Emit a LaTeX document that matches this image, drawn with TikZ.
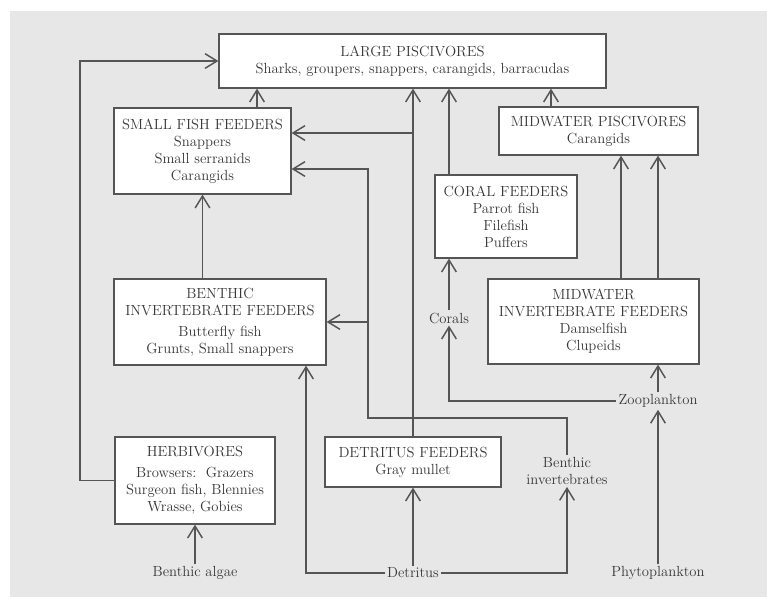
\documentclass[tikz,border=0pt]{standalone}
\usetikzlibrary{arrows.meta,calc}
\definecolor{bg}{RGB}{231,231,231}
\definecolor{ln}{RGB}{85,85,85}
\definecolor{tx}{RGB}{55,55,55}
\newcommand{\dgfnt}{\fontsize{11}{12.75}\selectfont}
\begin{document}
\begin{tikzpicture}[x=0.75pt,y=-0.75pt,
  bx/.style={draw=ln, line width=0.9pt, fill=white, align=center, inner sep=0pt, text=tx, font=\dgfnt},
  lbl/.style={text=tx, font=\dgfnt, align=center, inner sep=1.5pt},
  arr/.style={draw=ln, line width=1.4pt, -{Straight Barb[length=9pt,width=11pt,line width=1.1pt]}}]
\useasboundingbox (0,0) rectangle (767,597);
\fill[white] (0,0) rectangle (767,597);
\fill[bg] (10,11) rectangle (767,597);

\node[bx, minimum width=290.25pt, minimum height=40.5pt] (lp) at (412.5,61) {LARGE PISCIVORES\\Sharks, groupers, snappers, carangids, barracudas};
\node[bx, minimum width=132.75pt, minimum height=64.5pt] (sff) at (202.5,151) {SMALL FISH FEEDERS\\Snappers\\Small serranids\\Carangids};
\node[bx, minimum width=149.25pt, minimum height=36pt] (mp) at (598.5,131) {MIDWATER PISCIVORES\\Carangids};
\node[bx, minimum width=106.5pt, minimum height=62.25pt] (cf) at (506,216.5) {CORAL FEEDERS\\Parrot fish\\Filefish\\Puffers};
\node[bx, minimum width=159pt, minimum height=64.5pt] (bif) at (220,322) {BENTHIC\\INVERTEBRATE FEEDERS\\[3pt]Butterfly fish\\Grunts, Small snappers};
\node[bx, minimum width=158.25pt, minimum height=63.75pt] (mif) at (593.5,321.5) {MIDWATER\\INVERTEBRATE FEEDERS\\Damselfish\\Clupeids};
\node[bx, minimum width=120pt, minimum height=65.25pt] (herb) at (195,480.5) {HERBIVORES\\[3pt]Browsers:~~Grazers\\Surgeon fish, Blennies\\Wrasse, Gobies};
\node[bx, minimum width=132pt, minimum height=37.5pt] (df) at (413,462) {DETRITUS FEEDERS\\Gray mullet};

\node[lbl] (corals) at (449,318) {Corals};
\node[lbl] (zoo) at (658,401) {Zooplankton};
\node[lbl] (binv) at (567,471) {Benthic\\invertebrates};
\node[lbl] (algae) at (195,573) {Benthic algae};
\node[lbl] (det) at (413,573) {Detritus};
\node[lbl] (phyto) at (658,573) {Phytoplankton};

\draw[arr] (herb.west) -- ++(-34,0) |- (lp.west);
\coordinate (s1) at ($(sff.north)+(54.5,0)$);
\draw[arr] (s1) -- (s1 |- lp.south);
\draw[arr] (sff.south |- bif.north) -- (sff.south);
\draw[arr] (df.north) -- (df.north |- lp.south);
\coordinate (j1) at ($(sff.east)+(0,-18)$);
\draw[arr] (j1 -| df.north) -- (j1);
\coordinate (k) at (368,418);
\coordinate (j2) at ($(sff.east)+(0,18)$);
\draw[arr] (binv.north) |- (k) |- (j2);
\draw[arr] (bif.east -| k) -- (bif.east);
\draw[arr] (cf.north -| corals) -- (lp.south -| corals);
\draw[arr] (corals.north) -- (cf.south -| corals);
\draw[arr] (zoo.west) -| (corals.south);
\draw[arr] (zoo.north) -- (zoo.north |- mif.south);
\draw[arr] (phyto.north) -- (zoo.south);
\coordinate (m1) at ($(mif.north)+(27.5,0)$);
\draw[arr] (m1) -- (m1 |- mp.south);
\draw[arr] (zoo.north |- mif.north) -- (zoo.north |- mp.south);
\coordinate (m2) at ($(mp.north)+(-47.5,0)$);
\draw[arr] (m2) -- (m2 |- lp.south);
\draw[arr] (algae.north) -- (herb.south);
\draw[arr] (det.north) -- (df.south);
\coordinate (b2) at ($(bif.south)+(86,0)$);
\draw[arr] (det.west) -| (b2);
\draw[arr] (det.east) -| (binv.south);
\end{tikzpicture}
\end{document}
